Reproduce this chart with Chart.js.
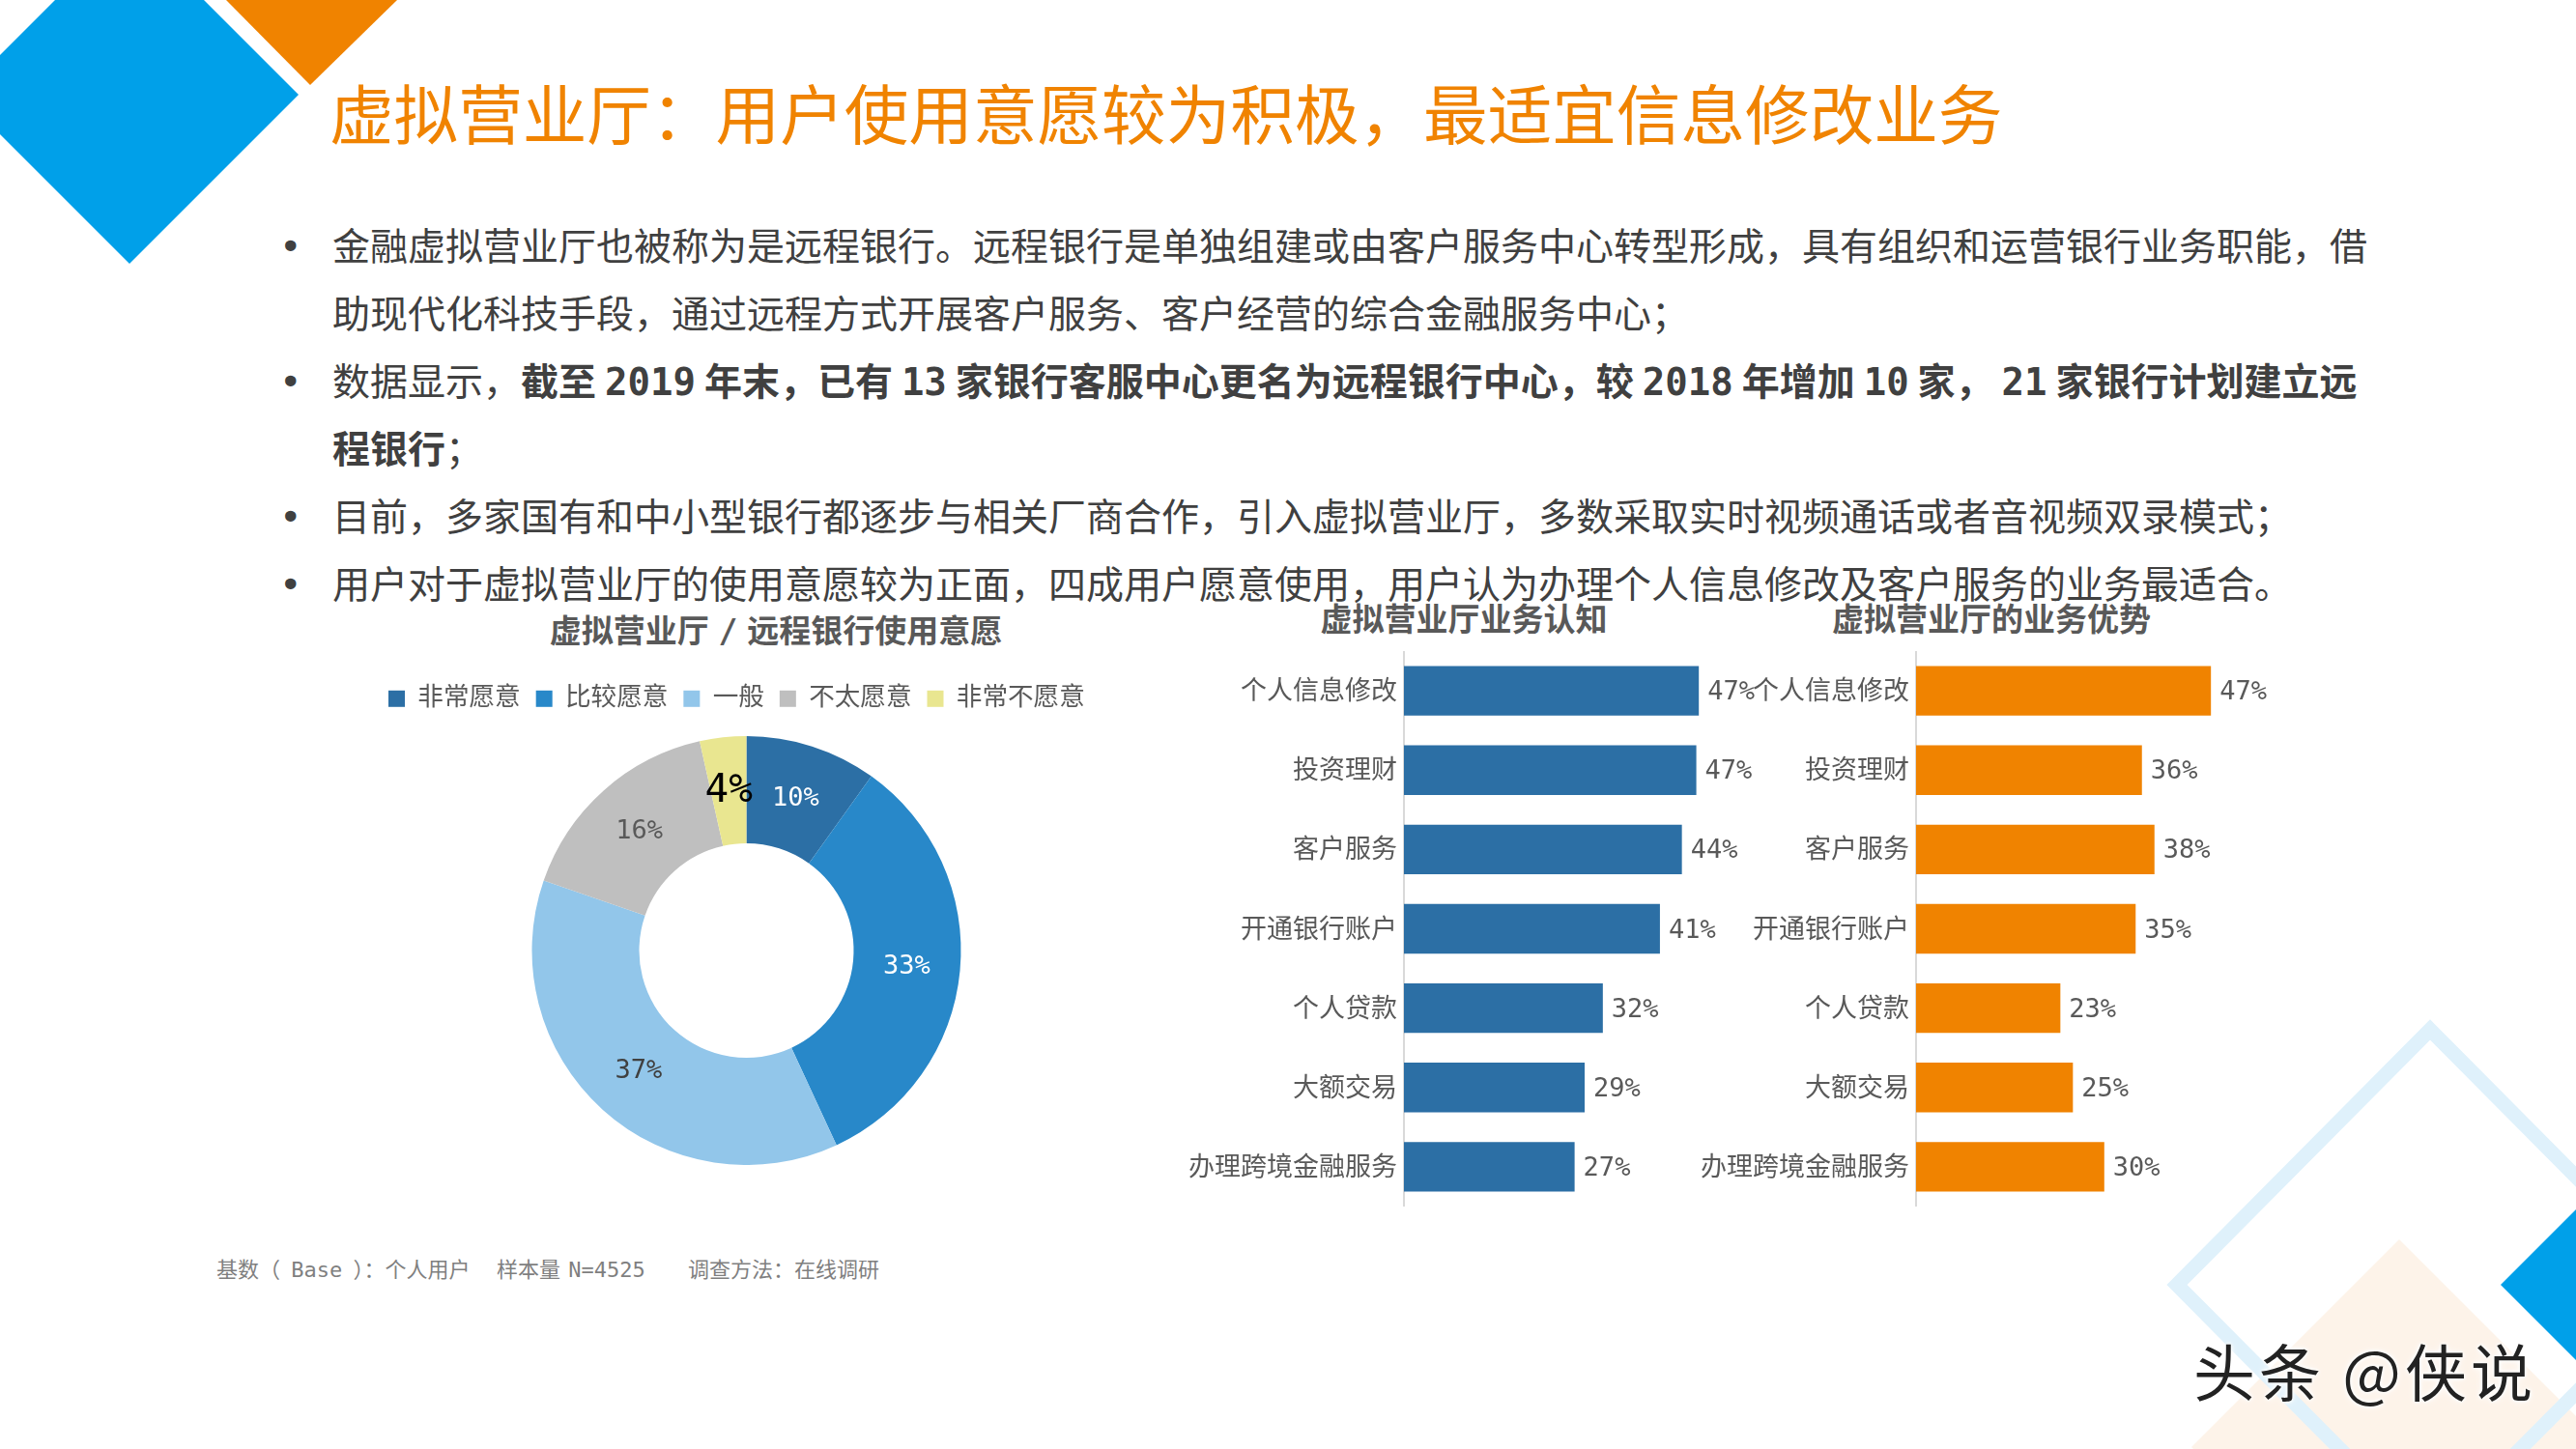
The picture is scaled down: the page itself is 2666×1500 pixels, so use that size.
<!DOCTYPE html>
<html lang="zh-CN">
<head>
<meta charset="utf-8">
<title>虚拟营业厅</title>
<script src="https://cdn.jsdelivr.net/npm/chart.js@4/dist/chart.umd.min.js"></script>
<style>
    html, body { margin: 0; padding: 0; background: #fff; }
    #page {
        position: relative; width: 2666px; height: 1500px; overflow: hidden;
        font-family: "DejaVu Sans Mono", "Noto Sans CJK SC", sans-serif; color: #404040;
    }
    #page > * { position: absolute; }
    .line { left: 344px; font-size: 39px; line-height: 50px; height: 50px; white-space: nowrap; word-spacing: -14.5px; }
    .bullet { left: 289px; font-size: 39px; line-height: 50px; }
    .sub { font-size: 33px; line-height: 40px; font-weight: bold; color: #595959; white-space: nowrap; transform: translateX(-50%); }
    .foot { top: 1300px; font-size: 22px; line-height: 30px; color: #7f7f7f; white-space: pre; }
</style>
</head>
<body>
<div id="page">
    <svg width="2666" height="1500" style="left:0;top:0">
        <polygon points="134,-77 309,98 134,273 -41,98" fill="#00a0e9"/>
        <polygon points="234,0 411,0 321,88" fill="#f08300"/>
        <polygon points="2483,1283 2698,1498 2483,1713 2268,1498" fill="#fdf3e9"/>
        <polygon points="2515,1066 2777,1330 2515,1594 2253,1330" fill="none" stroke="#dff1fb" stroke-width="15"/>
        <polygon points="2588,1330 2666,1252 2666,1408" fill="#00a0e9"/>
    </svg>

    <div style="left:341px;top:78px;font-size:66.6px;line-height:86px;color:#f08300;white-space:nowrap">虚拟营业厅：用户使用意愿较为积极，最适宜信息修改业务</div>

    <div class="bullet" style="top:231px">•</div>
    <div class="line" style="top:231px">金融虚拟营业厅也被称为是远程银行。远程银行是单独组建或由客户服务中心转型形成，具有组织和运营银行业务职能，借</div>
    <div class="line" style="top:301px">助现代化科技手段，通过远程方式开展客户服务、客户经营的综合金融服务中心；</div>
    <div class="bullet" style="top:371px">•</div>
    <div class="line" style="top:371px">数据显示，<b>截至 2019 年末，已有 13 家银行客服中心更名为远程银行中心，较 2018 年增加 10 家， 21 家银行计划建立远</b></div>
    <div class="line" style="top:441px"><b>程银行</b>；</div>
    <div class="bullet" style="top:511px">•</div>
    <div class="line" style="top:511px">目前，多家国有和中小型银行都逐步与相关厂商合作，引入虚拟营业厅，多数采取实时视频通话或者音视频双录模式；</div>
    <div class="bullet" style="top:581px">•</div>
    <div class="line" style="top:581px">用户对于虚拟营业厅的使用意愿较为正面，四成用户愿意使用，用户认为办理个人信息修改及客户服务的业务最适合。</div>

    <div class="sub" style="left:803px;top:634px;word-spacing:-10px">虚拟营业厅 / 远程银行使用意愿</div>
    <div class="sub" style="left:1515px;top:622px">虚拟营业厅业务认知</div>
    <div class="sub" style="left:2061px;top:622px">虚拟营业厅的业务优势</div>

    <canvas id="donut" width="773" height="512" style="left:386px;top:694px"></canvas>
    <canvas id="awareness" width="747" height="575" style="left:1193px;top:674px"></canvas>
    <canvas id="advantage" width="747" height="575" style="left:1723px;top:674px"></canvas>

    <div class="foot" style="left:224px;word-spacing:-2px">基数（ Base ）：个人用户</div>
    <div class="foot" style="left:514px;word-spacing:-5px">样本量 N=4525</div>
    <div class="foot" style="left:712px">调查方法：在线调研</div>

    <div style="left:2270px;top:1375px;font-size:64px;line-height:84px;letter-spacing:4px;color:#222;white-space:nowrap;text-shadow:0 0 4px #fff,0 0 4px #fff,0 0 8px #fff;font-family:'Noto Sans CJK SC',sans-serif">头条 @侠说</div>
</div>

<script>
// chart data
const willingLabels = ['非常愿意', '比较愿意', '一般', '不太愿意', '非常不愿意'];
const willingValues = [9.9, 33.2, 37.2, 16.2, 3.5];

const serviceLabels = ['个人信息修改', '投资理财', '客户服务', '开通银行账户', '个人贷款', '大额交易', '办理跨境金融服务'];
const awarenessValues = [47, 46.6, 44.3, 40.8, 31.7, 28.8, 27.2];
const advantageValues = [47, 36, 38, 35, 23, 25, 30];

const FONT = '"DejaVu Sans Mono", "Noto Sans CJK SC", sans-serif';
const TEXT_GREY = '#595959';
const sliceColors = ['#2c6fa5', '#2888c9', '#92c6ea', '#bfbfbf', '#e9e690'];
const sliceLabelColors = ['#fff', '#fff', '#404040', '#595959', '#000'];
const sliceLabelSizes = [27, 27, 27, 27, 41];

// value labels, there is no datalabels plugin here so draw them by hand
const barLabels = {
    id: 'barLabels',
    afterDatasetsDraw(chart) {
        const ctx = chart.ctx;
        const values = chart.data.datasets[0].data;
        ctx.save();
        ctx.font = '27px ' + FONT;
        ctx.fillStyle = TEXT_GREY;
        ctx.textAlign = 'left';
        ctx.textBaseline = 'middle';
        chart.getDatasetMeta(0).data.forEach((bar, i) => {
            ctx.fillText(Math.round(values[i]) + '%', bar.x + 9, bar.y + 2);
        });
        ctx.restore();
    }
};

const sliceLabels = {
    id: 'sliceLabels',
    afterDatasetsDraw(chart) {
        const ctx = chart.ctx;
        const values = chart.data.datasets[0].data;
        ctx.save();
        ctx.textAlign = 'center';
        ctx.textBaseline = 'middle';
        chart.getDatasetMeta(0).data.forEach((arc, i) => {
            const pos = arc.tooltipPosition();
            ctx.font = sliceLabelSizes[i] + 'px ' + FONT;
            ctx.fillStyle = sliceLabelColors[i];
            ctx.fillText(Math.round(values[i]) + '%', pos.x, pos.y + 1);
        });
        ctx.restore();
    }
};

// leaves room between the legend and the ring
const legendGap = {
    id: 'legendGap',
    beforeInit(chart) {
        const fit = chart.legend.fit;
        chart.legend.fit = function () {
            fit.call(this);
            this.height += 15.4;
        };
    }
};

new Chart(document.getElementById('donut'), {
    type: 'doughnut',
    data: {
        labels: willingLabels,
        datasets: [{ data: willingValues, backgroundColor: sliceColors, borderWidth: 0 }]
    },
    options: {
        responsive: false,
        animation: false,
        cutout: '50%',
        plugins: {
            tooltip: { enabled: false },
            legend: {
                position: 'top',
                align: 'start',
                labels: {
                    boxWidth: 17,
                    boxHeight: 17,
                    padding: 16,
                    color: TEXT_GREY,
                    font: { family: FONT, size: 26.6 }
                }
            }
        }
    },
    plugins: [legendGap, sliceLabels]
});

function createBarChart(canvasId, values, color) {
    return new Chart(document.getElementById(canvasId), {
        type: 'bar',
        data: {
            labels: serviceLabels,
            datasets: [{ data: values, backgroundColor: color, barPercentage: 0.625, categoryPercentage: 1 }]
        },
        options: {
            indexAxis: 'y',
            responsive: false,
            animation: false,
            plugins: { legend: { display: false }, tooltip: { enabled: false } },
            scales: {
                x: { display: false, min: 0, max: 75 },
                y: {
                    // fixed label column, and no margin for the first and last label
                    afterFit(scale) {
                        scale.width = 260;
                        scale.paddingTop = 0;
                        scale.paddingBottom = 0;
                    },
                    border: { color: '#d9d9d9', width: 2 },
                    grid: { display: false, drawTicks: false },
                    ticks: { padding: 7, labelOffset: 2, color: TEXT_GREY, autoSkip: false, font: { family: FONT, size: 27 } }
                }
            }
        },
        plugins: [barLabels]
    });
}

createBarChart('awareness', awarenessValues, '#2c6fa5');
createBarChart('advantage', advantageValues, '#f08300');
</script>
</body>
</html>
